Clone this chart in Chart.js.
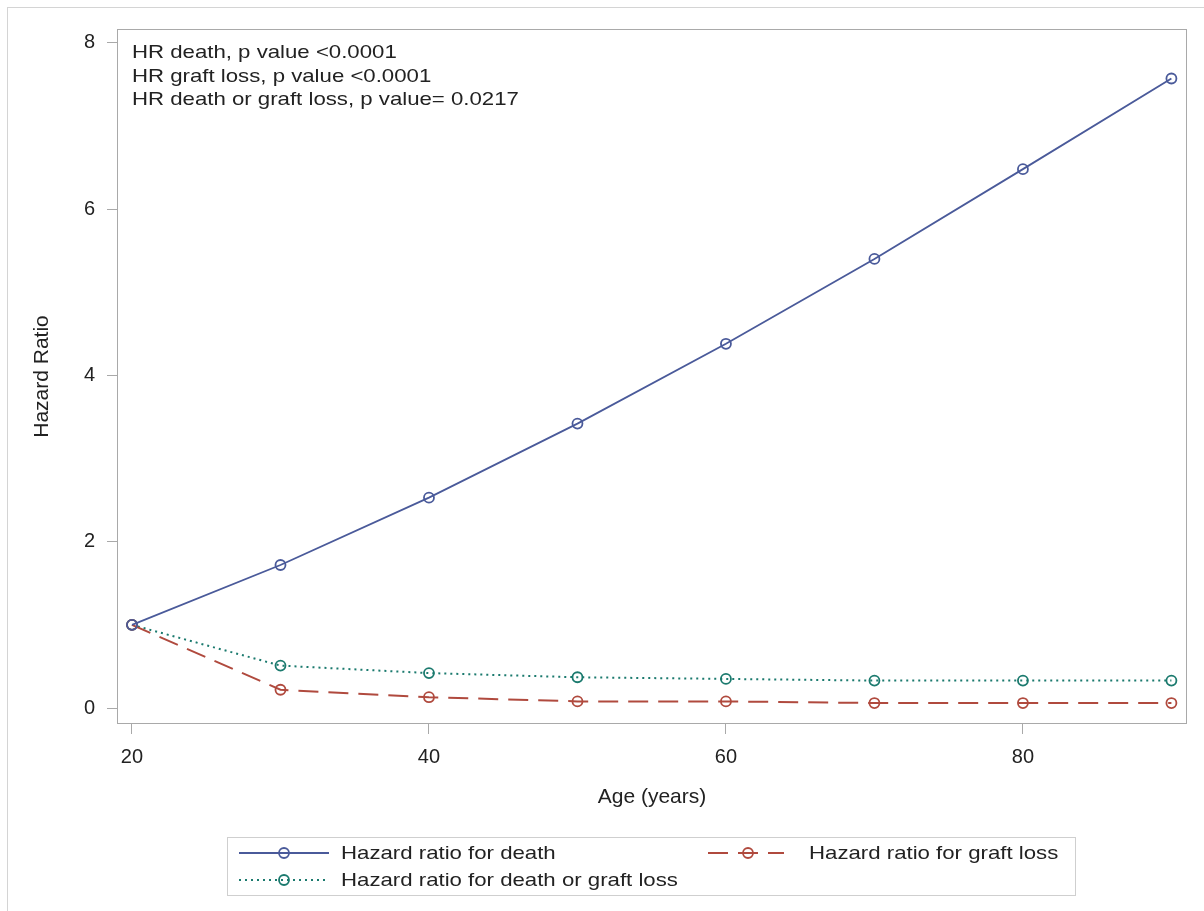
<!DOCTYPE html>
<html>
<head>
<meta charset="utf-8">
<script src="https://cdn.jsdelivr.net/npm/chart.js@4.4.1/dist/chart.umd.min.js"></script>
<style>
html,body{margin:0;padding:0;background:#fff;}
#wrap{position:relative;width:1204px;height:911px;overflow:hidden;font-family:"Liberation Sans",Arial,sans-serif;color:#222;}
#outer{position:absolute;left:7px;top:7px;width:1210px;height:920px;border:1px solid #d4d4d4;}
#c{position:absolute;left:0;top:0;}
.txt{position:absolute;white-space:nowrap;font-size:18.5px;transform:scaleX(1.2);transform-origin:left center;}
#note{position:absolute;left:132px;top:40px;line-height:23.5px;}
#note .txt{position:relative;display:block;}
#legend{position:absolute;left:227px;top:837px;width:847px;height:57px;border:1px solid #cfcfcf;}
.item{position:absolute;height:26px;line-height:26px;}
.item svg{position:absolute;top:3px;left:0;}
</style>
</head>
<body>
<div id="wrap">
  <div id="outer"></div>
  <canvas id="c" width="1204" height="911"></canvas>
  <div id="note"></div>
  <div id="legend"></div>
</div>
<script>
// values
const ages = [20, 30, 40, 50, 60, 70, 80, 90];
const hrDeath = [1, 1.72, 2.53, 3.42, 4.38, 5.40, 6.48, 7.57];
const hrGraft = [1, 0.22, 0.13, 0.08, 0.08, 0.06, 0.06, 0.06];
const hrEither = [1, 0.51, 0.42, 0.37, 0.35, 0.33, 0.33, 0.33];
const xTicks = [20, 40, 60, 80];
const yTicks = [0, 2, 4, 6, 8];
const notes = ['HR death, p value <0.0001', 'HR graft loss, p value <0.0001', 'HR death or graft loss, p value= 0.0217'];
const seriesNames = ['Hazard ratio for death', 'Hazard ratio for graft loss', 'Hazard ratio for death or graft loss'];

const frameColor = '#a9a9a9';
const textColor = '#222';
const font = {family: '"Liberation Sans", Arial, sans-serif', size: 20};

function series(label, data, color, dash, width){
  return {label, data: ages.map((a,i)=>({x:a, y:data[i]})), borderColor:color, borderWidth:width, borderDash:dash,
    pointStyle:'circle', pointRadius:5, pointBorderWidth:1.8, pointBorderColor:color, pointBackgroundColor:'rgba(0,0,0,0)',
    pointHoverRadius:5, tension:0, fill:false};
}

const frame = {
  id:'frame',
  beforeDatasetsDraw(chart){
    const a = chart.chartArea, ctx = chart.ctx;
    ctx.save(); ctx.strokeStyle = frameColor; ctx.lineWidth = 1;
    ctx.strokeRect(Math.round(a.left)+0.5, Math.round(a.top)+0.5, Math.round(a.right-a.left)-1, Math.round(a.bottom-a.top)-1);
    ctx.restore();
  }
};

const chart = new Chart(document.getElementById('c'), {
  type:'line',
  data:{datasets:[
    series(seriesNames[0], hrDeath, '#4a5a9a', [], 1.8),
    series(seriesNames[1], hrGraft, '#b04a3e', [20,10], 2),
    series(seriesNames[2], hrEither, '#1b7a6e', [2,4], 2)
  ]},
  options:{
    responsive:false, animation:false, devicePixelRatio:1,
    layout:{padding:{left:0, top:29, right:17, bottom:87}},
    plugins:{legend:{display:false}, tooltip:{enabled:false}},
    scales:{
      x:{type:'linear', min:18.99, max:91.05,
        afterBuildTicks(s){ s.ticks = xTicks.map(v=>({value:v})); },
        afterFit(s){ s.height = 100; },
        grid:{drawOnChartArea:false, drawTicks:true, tickLength:10, color:frameColor},
        border:{display:false},
        ticks:{color:textColor, font, padding:11},
        title:{display:true, text:'Age (years)', color:textColor, font:{...font, size:21}, padding:{top:0, bottom:14}}
      },
      y:{min:-0.192, max:8.165,
        afterBuildTicks(s){ s.ticks = yTicks.map(v=>({value:v})); },
        afterFit(s){ s.width = 117; },
        grid:{drawOnChartArea:false, drawTicks:true, tickLength:10, color:frameColor},
        border:{display:false},
        ticks:{color:textColor, font, padding:12},
        title:{display:true, text:'Hazard Ratio', color:textColor, font:{...font, size:21}, padding:{top:30, bottom:0}}
      }
    }
  },
  plugins:[frame]
});

document.getElementById('note').innerHTML = notes.map(t=>`<span class="txt">${t}</span>`).join('');

// legend built from the datasets
const legendSlots = [
  {ds:0, left:11, top:2, w:90, mark:45, text:113},
  {ds:1, left:480, top:2, w:76, mark:40, text:581},
  {ds:2, left:11, top:29, w:90, mark:45, text:113}
];
const legend = document.getElementById('legend');
legendSlots.forEach(s=>{
  const d = chart.data.datasets[s.ds];
  const dash = d.borderDash.length ? `stroke-dasharray="${d.borderDash.join(' ')}"` : '';
  const el = document.createElement('div');
  el.className = 'item';
  el.style.left = s.left + 'px'; el.style.top = s.top + 'px';
  el.innerHTML = `<svg width="${s.w}" height="20"><line x1="0" y1="10" x2="${s.w}" y2="10" stroke="${d.borderColor}" stroke-width="${d.borderWidth}" ${dash}/>`+
    `<circle cx="${s.mark}" cy="10" r="5" fill="none" stroke="${d.borderColor}" stroke-width="1.8"/></svg>`+
    `<span class="txt" style="left:${s.text - s.left}px;top:0">${d.label}</span>`;
  legend.appendChild(el);
});
</script>
</body>
</html>
